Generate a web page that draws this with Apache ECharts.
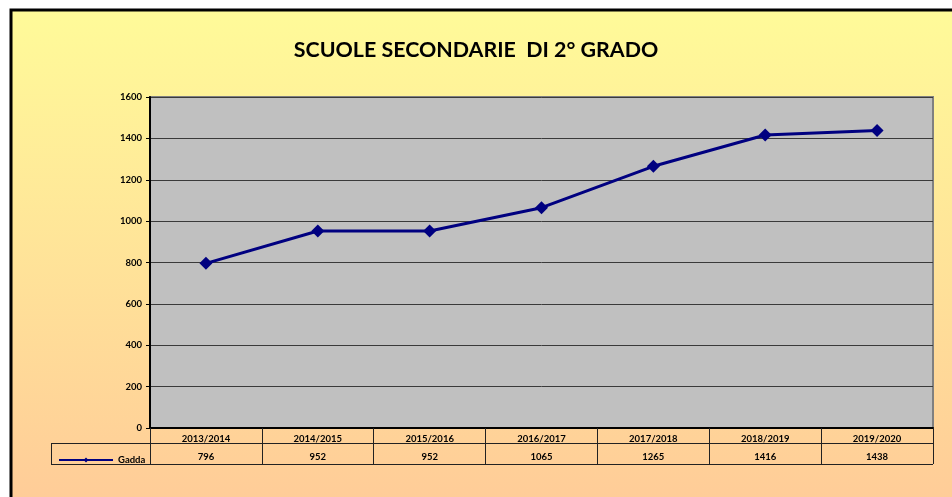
<!DOCTYPE html>
<html><head><meta charset="utf-8">
<script src="https://cdn.jsdelivr.net/npm/echarts@6/dist/echarts.min.js"></script>
<style>html,body{margin:0;padding:0;background:#fff}#c{width:952px;height:497px}</style>
</head><body><div id="c"></div>
<script>
const categories = ['2013/2014','2014/2015','2015/2016','2016/2017','2017/2018','2018/2019','2019/2020'];
const gadda = [796, 952, 952, 1065, 1265, 1416, 1438];
const seriesName = 'Gadda';
const titleText = 'SCUOLE SECONDARIE  DI 2° GRADO';
const FONT = "Lato, 'Open Sans', sans-serif";

const chart = echarts.init(document.getElementById('c'), null, {renderer:'canvas'});
const GL = 150, GR = 933, GT = 97, GB = 428;
chart.setOption({
  animation:false,
  backgroundColor:'#fff',
  graphic:[
    {type:'rect', z:-10, shape:{x:11, y:10, width:960, height:500},
     style:{fill:new echarts.graphic.LinearGradient(0,0,0,1,[{offset:0,color:'#FFFB99'},{offset:1,color:'#FFCB98'}]), stroke:'#000', lineWidth:3}},
    {type:'line', shape:{x1:51,y1:443.5,x2:GR,y2:443.5}, style:{stroke:'#222',lineWidth:1}},
    {type:'line', shape:{x1:51,y1:464.5,x2:GR,y2:464.5}, style:{stroke:'#222',lineWidth:1}},
    {type:'line', shape:{x1:51.5,y1:443,x2:51.5,y2:465}, style:{stroke:'#222',lineWidth:1}}
  ],
  title:{text:titleText, left:'center', top:35, textStyle:{fontFamily:FONT, fontSize:21.4, fontWeight:'bold', color:'#000'}},
  legend:{left:53, top:450, itemWidth:54, itemHeight:6, itemGap:4,
    textStyle:{fontFamily:FONT, fontSize:9.5, fontWeight:'bold', color:'#000'},
    data:[{name:seriesName}]},
  grid:{left:GL, right:952-GR, top:GT, bottom:497-GB, show:true, backgroundColor:'#C0C0C0', borderColor:'#808080', borderWidth:2},
  xAxis:{type:'category', data:categories, boundaryGap:true,
    axisLine:{lineStyle:{color:'#000', width:2}},
    axisTick:{show:true, alignWithLabel:false, length:36, lineStyle:{color:'#222', width:1}},
    axisLabel:{margin:3, interval:0, fontFamily:FONT, color:'#000',
      formatter:function(v, i){ return '{a|'+v+'}\n{b|'+gadda[i]+'}'; },
      rich:{a:{fontSize:9.5, fontWeight:'bold', lineHeight:15, fontFamily:FONT}, b:{fontSize:9.5, fontWeight:'bold', lineHeight:22, fontFamily:FONT}}}},
  yAxis:{type:'value', min:0, max:1600, interval:200,
    axisLine:{show:true, lineStyle:{color:'#000', width:2}},
    axisTick:{show:true, length:4, lineStyle:{color:'#000'}},
    axisLabel:{fontFamily:FONT, fontSize:9.5, fontWeight:'bold', color:'#000', margin:8, formatter:function(v){return String(v);}},
    splitLine:{lineStyle:{color:'#3a3a3a', width:1}}},
  series:[{name:seriesName, type:'line', data:gadda, symbol:'diamond', symbolSize:13,
    lineStyle:{color:'#000080', width:3}, itemStyle:{color:'#000080'}}]
});
</script></body></html>
